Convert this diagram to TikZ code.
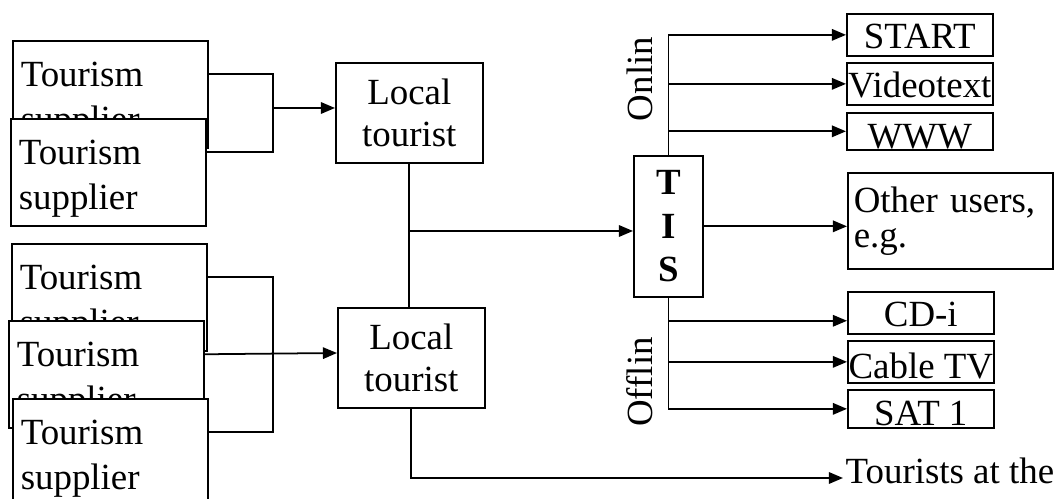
\documentclass[tikz,border=0pt]{standalone}
\usepackage{fontspec}
\setmainfont{Liberation Serif}
\usetikzlibrary{arrows.meta,positioning,calc}
\tikzset{
    box/.style={draw, fill=white, anchor=north west},
    supbox/.style={box, inner xsep=4.5pt, inner ysep=8pt, minimum width=111pt, minimum height=61pt,
        font=\fontsize{21pt}{25.6pt}\selectfont},
    ltbox/.style={box, align=center, inner sep=0pt, minimum width=83.6pt, minimum height=57pt,
        font=\fontsize{21pt}{23.7pt}\selectfont},
    tisbox/.style={box, align=center, inner sep=0pt, minimum width=39.3pt, minimum height=80.2pt,
        font=\fontsize{21pt}{24.7pt}\selectfont\bfseries},
    outbox/.style={box, inner sep=0pt, minimum width=83pt, minimum height=23.9pt,
        text height=16pt, text depth=0pt, font=\fontsize{21pt}{24pt}\selectfont},
    otherbox/.style={box, align=left, inner xsep=3pt, inner ysep=0pt, text width=110pt,
        minimum width=116.7pt, minimum height=54.6pt, font=\fontsize{21pt}{20pt}\selectfont},
    sidelabel/.style={rotate=90, inner sep=0pt, font=\fontsize{21pt}{24pt}\selectfont},
    destlabel/.style={anchor=west, inner xsep=1pt, inner ysep=0pt, text height=6pt, text depth=0pt,
        font=\fontsize{21pt}{24pt}\selectfont},
    arr/.style={-{Triangle[length=8pt,width=6.5pt]}}
}
\newcommand{\supplier}{\parbox[t][45pt][t]{102pt}{\strut Tourism\\supplier}}

\begin{document}
\begin{tikzpicture}[x=0.02cm, y=-0.02cm, line width=1pt]
    \useasboundingbox (0,0) rectangle (1058,499);
    \clip (0,0) rectangle (1058,499);

    % suppliers (stacked, each one covers the one before)
    \node[supbox] (s1) at (12,40) {\supplier};
    \node[supbox] (s2) at (10,118) {\supplier};
    \node[supbox] (s3) at (11,243) {\supplier};
    \node[supbox] (s4) at (8,320) {\supplier};
    \node[supbox] (s5) at (12,398) {\supplier};

    % local tourist offices and the TIS
    \node[ltbox] (lt1) at (335,62) {Local\\tourist};
    \node[ltbox] (lt2) at (337,307) {Local\\tourist};
    \node[tisbox] (tis) at (633,155) {T\\I\\S};

    % channels
    \node[outbox] (start) at (846,13) {START};
    \node[outbox] (vtx) at (846,62) {Videotext};
    \node[outbox, minimum height=21pt, text height=19pt] (www) at (846,112) {WWW};
    \node[otherbox] (other) at (847,172) {Other users,\\e.g.};
    \node[outbox] (cdi) at (847,291) {CD-i};
    \node[outbox, text height=19pt] (cable) at (847,340) {Cable TV};
    \node[outbox, minimum height=21.6pt, text height=19pt] (sat) at (847,389) {SAT 1};
    \node[sidelabel] (onl) at (640,79) {Onlin};
    \node[sidelabel] (offl) at (640,382) {Offlin};
    \node[destlabel] (dest) at (843,478) {Tourists at the};

    % connectors
    \coordinate (bus1) at (273,108);
    \coordinate (bus2) at (273,353);
    \coordinate (mid) at (408.5,231);
    \draw ([yshift=11.5pt]s1.east) -| (bus1) |- ([yshift=11.5pt]s2.east);
    \draw[arr] (bus1) -- (bus1 -| lt1.west);
    \draw ([yshift=11.5pt]s3.east) -| (bus2) |- ([yshift=11.5pt]s5.east);
    \draw[arr] ([yshift=11.5pt]s4.east) -- (bus2 -| lt2.west);
    \draw (lt1.south) -- (lt1.south |- lt2.north);
    \draw[arr] (mid) -- (mid -| tis.west);
    \draw[arr] (lt2.south) |- (dest.west);
    \draw[arr] (tis.north) |- (start);
    \draw[arr] (tis.north) |- (vtx);
    \draw[arr] (tis.north) |- (www);
    \draw[arr] (tis.east) -- (tis.east -| other.west);
    \draw[arr] (tis.south) |- ([yshift=-4.5pt]cdi.west);
    \draw[arr] (tis.south) |- (cable);
    \draw[arr] (tis.south) |- (sat);
\end{tikzpicture}
\end{document}
